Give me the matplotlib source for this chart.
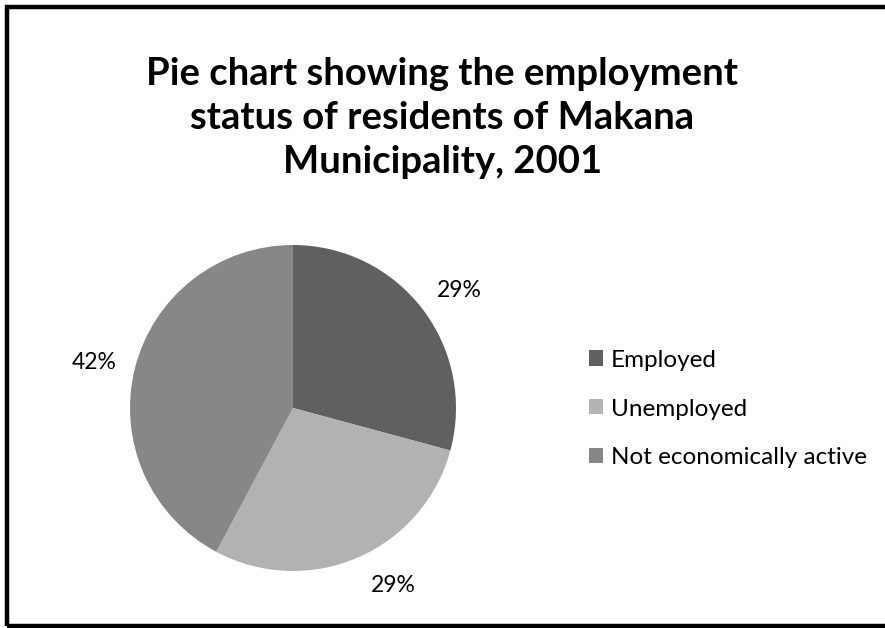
import numpy as np
import matplotlib
matplotlib.use('Agg')
from matplotlib import pyplot as plt
from matplotlib import patches

plt.rcParams['font.family'] = ['Lato', 'DejaVu Sans']

categories = ['Employed', 'Unemployed', 'Not economically active']
shares = [29.2, 28.6, 42.2]
colors = ['#606060', '#b2b2b2', '#878787']
title = 'Pie chart showing the employment\nstatus of residents of Makana\nMunicipality, 2001'

# percent label placement: distance in radii, angle nudge in degrees ("best fit")
label_dist = 1.25
label_nudge = [-2.3, 6.0, 1.1]

W, H = 885, 628
fig = plt.figure(figsize=(W / 100, H / 100), dpi=100)

cx, cy, r = 293, 408, 163
ax = fig.add_axes([(cx - r) / W, (H - cy - r) / H, 2 * r / W, 2 * r / H])
wedges, _ = ax.pie(shares, colors=colors, startangle=90, counterclock=False,
                   wedgeprops={'linewidth': 0})
ax.set_xlim(-1, 1)
ax.set_ylim(-1, 1)
ax.set_aspect('equal')
ax.axis('off')

total = sum(shares)
for w, v, nudge in zip(wedges, shares, label_nudge):
    mid = np.deg2rad((w.theta1 + w.theta2) / 2 + nudge)
    ax.text(label_dist * np.cos(mid), label_dist * np.sin(mid),
            '{:.0f}%'.format(100 * v / total),
            ha='center', va='center', fontsize=16.5, color='black', clip_on=False)

fig.text(0.5, 1 - 118 / H, title, ha='center', va='center', fontsize=27.5,
         fontweight='bold', linespacing=1.37)

handles = [patches.Patch(facecolor=c, edgecolor='none') for c in colors]
fig.legend(handles, categories, loc='center left',
           bbox_to_anchor=(589 / W, 1 - 409 / H), frameon=False, fontsize=17.5,
           handlelength=0.58, handleheight=0.58, handletextpad=0.33,
           labelspacing=1.15, borderpad=0, borderaxespad=0)

# outer frame
fig.add_artist(patches.Rectangle((7 / W, 2 / H), 1.0, 1 - 9 / H,
                                 transform=fig.transFigure, fill=False,
                                 edgecolor='black', linewidth=3.2))

fig.savefig('out.png', dpi=100)
